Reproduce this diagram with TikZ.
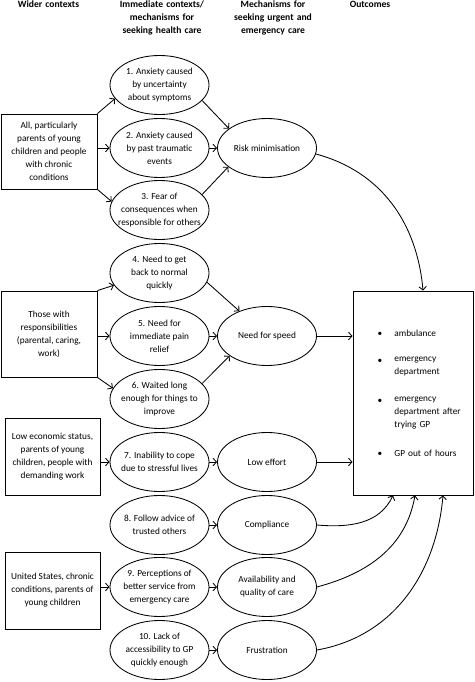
\documentclass[tikz,border=0pt]{standalone}
\usepackage{fontspec}
\setmainfont{Carlito}
\usetikzlibrary{shapes.geometric,arrows.meta}
\tikzset{
  head/.style={font=\fontsize{9.6}{12.8}\selectfont\bfseries, align=center,
    anchor=north, inner sep=0pt, text width=105pt},
  ctxbox/.style={draw, rectangle, align=center, inner sep=0pt},
  oval/.style={draw, ellipse, minimum width=99pt, minimum height=59pt,
    inner xsep=-25pt, inner ysep=-15pt, align=center},
  arr/.style={-{Straight Barb[length=3.5pt,width=7.5pt]}},
  item/.style={align=left, anchor=north west, inner sep=0pt, text width=75pt}
}
\begin{document}
\begin{tikzpicture}[x=1pt, y=1pt, line width=0.85pt,
    every node/.style={font=\fontsize{9.3}{13}\selectfont}]
    \useasboundingbox (0,0) rectangle (474,-682);
    %% column headings
    \node[head] (h1) at (48.5,-0.5) {Wider contexts};
    \node[head] (h2) at (162,-0.5) {Immediate contexts/\\mechanisms for\\seeking health care};
    \node[head] (h3) at (273,-0.5) {Mechanisms for\\seeking urgent and\\emergency care};
    \node[head] (h4) at (370,-0.5) {Outcomes};
    %% wider contexts
    \node[ctxbox, minimum width=96pt, minimum height=75pt] (all) at (49,-151.5)
        {All, particularly\\parents of young\\children and people\\with chronic\\conditions};
    \node[ctxbox, minimum width=96pt, minimum height=86pt] (resp) at (49,-334)
        {Those with\\responsibilities\\(parental, caring,\\work)};
    \node[ctxbox, minimum width=95pt, minimum height=77pt] (lowses) at (52.5,-456.5)
        {Low economic status,\\parents of young\\children, people with\\demanding work};
    \node[ctxbox, minimum width=95pt, minimum height=77pt] (us) at (52.5,-590.5)
        {United States, chronic\\conditions, parents of\\young children};
    %% immediate contexts
    \foreach \n/\yy/\txt in {1/85/{1. Anxiety caused\\by uncertainty\\about symptoms},
            2/148/{2. Anxiety caused\\by past traumatic\\events},
            3/210/{3. Fear of\\consequences when\\responsible for others},
            4/273/{4. Need to get\\back to normal\\quickly},
            5/336/{5. Need for\\immediate pain\\relief},
            6/399/{6. Waited long\\enough for things to\\improve},
            7/462/{7. Inability to cope\\due to stressful lives},
            8/525/{8. Follow advice of\\trusted others},
            9/587/{9. Perceptions of\\better service from\\emergency care},
            10/650/{10. Lack of\\accessibility to GP\\quickly enough}}
        \node[oval] (e\n) at (159.5,-\yy) {\txt};
    %% mechanisms
    \node[oval] (risk) at (267,-148) {Risk minimisation};
    \node[oval] (speed) at (267,-336) {Need for speed};
    \node[oval] (effort) at (267,-462) {Low effort};
    \node[oval] (comply) at (267,-525) {Compliance};
    \node[oval] (avail) at (267,-587) {Availability and\\quality of care};
    \node[oval] (frust) at (267,-650) {Frustration};
    %% outcomes
    \node[ctxbox, minimum width=120pt, minimum height=204pt] (outc) at (413,-393) {};
    \foreach \yy/\txt in {330/ambulance, 356.5/{emergency\\department},
            396.5/{emergency\\department after\\trying GP}, 450/{GP out of hours}} {
        \node[item] at (394,-\yy) {\txt};
        \node[inner sep=0pt] at (380,{-\yy-4.8}) {\textbullet};
    }
    %% arrows into immediate contexts
    \draw[arr] (all.north east) -- (e1.197);
    \draw[arr] (all.east |- e2) -- (e2.west);
    \draw[arr] (all.south east) -- (e3.170);
    \draw[arr] (resp.north east) -- (e4.195);
    \draw[arr] (resp.east |- e5) -- (e5.west);
    \draw[arr] (resp.south east) -- (e6.167);
    \draw[arr] (lowses.east |- e7) -- (e7.west);
    \draw[arr] (us.east |- e9) -- (e9.west);
    %% arrows into mechanisms
    \draw[arr] (e1.-20) -- (risk.153);
    \draw[arr] (e2.east) -- (risk.west);
    \draw[arr] (e3.20) -- (risk.206);
    \draw[arr] (e4.-11) -- (speed.138);
    \draw[arr] (e5.east) -- (speed.west);
    \draw[arr] (e6.20) -- (speed.208);
    \draw[arr] (e7) -- (effort);
    \draw[arr] (e8) -- (comply);
    \draw[arr] (e9) -- (avail);
    \draw[arr] (e10) -- (frust);
    %% arrows into outcomes
    \draw[arr] (risk.-7) to[out=-15, in=95] ([xshift=10pt]outc.north);
    \draw[arr] (speed.east) -- (outc.west |- speed);
    \draw[arr] (effort.east) -- (outc.west |- effort);
    \draw[arr] (comply.east) to[out=-5, in=-115] ([xshift=-20pt]outc.south);
    \draw[arr] (avail.east) to[out=15, in=-100] ([xshift=2pt]outc.south);
    \draw[arr] (frust.east) to[out=10, in=-95] ([xshift=30pt]outc.south);
\end{tikzpicture}
\end{document}
